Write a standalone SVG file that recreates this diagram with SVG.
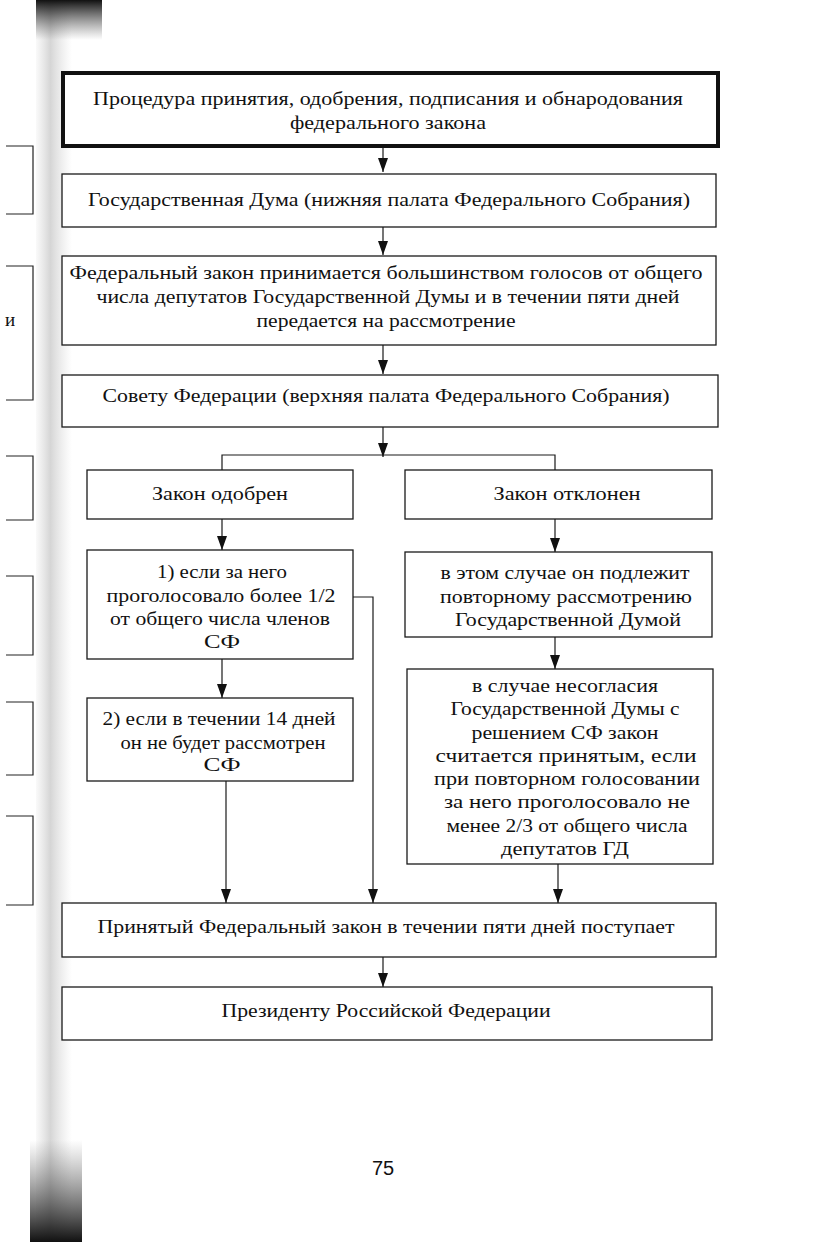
<svg xmlns="http://www.w3.org/2000/svg" width="819" height="1242" viewBox="0 0 819 1242">
  <defs>
    <marker id="arr" viewBox="0 0 14 10" refX="14" refY="5" markerWidth="14" markerHeight="10" markerUnits="userSpaceOnUse" orient="auto">
      <path d="M0,0 L14,5 L0,10 Z" fill="#111"/>
    </marker>
    <linearGradient id="gut" x1="0" y1="0" x2="1" y2="0">
      <stop offset="0" stop-color="#999" stop-opacity="0.05"/>
      <stop offset="0.4" stop-color="#888" stop-opacity="0.35"/>
      <stop offset="1" stop-color="#aaa" stop-opacity="0"/>
    </linearGradient>
    <linearGradient id="gutTop" x1="0" y1="0" x2="0" y2="1">
      <stop offset="0" stop-color="#111" stop-opacity="1"/>
      <stop offset="1" stop-color="#555" stop-opacity="0"/>
    </linearGradient>
    <linearGradient id="gutBot" x1="0" y1="0" x2="0" y2="1">
      <stop offset="0" stop-color="#555" stop-opacity="0"/>
      <stop offset="1" stop-color="#111" stop-opacity="1"/>
    </linearGradient>
  </defs>
  <style>
    .box{fill:#fff;stroke:#1a1a1a;stroke-width:1.3}
    .thick{fill:#fff;stroke:#111;stroke-width:4}
    .t{font-family:"Liberation Serif","Times New Roman",serif;font-size:19px;fill:#111;text-anchor:middle}
    .c{fill:none;stroke:#1a1a1a;stroke-width:1.2}
    .edge{fill:none;stroke:#222;stroke-width:1.2}
  </style>
  <rect x="0" y="0" width="819" height="1242" fill="#fff"/>

  <!-- page edge / gutter of the scan -->
  <g id="page-edge">
    <rect x="36" y="0" width="36" height="1242" fill="url(#gut)"/>
    <rect x="36" y="0" width="66" height="40" fill="url(#gutTop)"/>
    <rect x="30" y="1140" width="52" height="102" fill="url(#gutBot)"/>
    <path class="edge" d="M6,146 H33 V214 H6" stroke-width="3"/>
    <path class="edge" d="M6,266 H33 V400 H6"/>
    <path class="edge" d="M6,456 H33 V520 H6"/>
    <path class="edge" d="M6,576 H33 V655 H6"/>
    <path class="edge" d="M6,702 H33 V775 H6"/>
    <path class="edge" d="M6,816 H33 V905 H6"/>
    <text x="10" y="326" class="t" font-size="16">и</text>
  </g>

  <g id="connectors">
    <line class="c" x1="383" y1="147" x2="383" y2="172" marker-end="url(#arr)"/>
    <line class="c" x1="383" y1="227" x2="383" y2="255" marker-end="url(#arr)"/>
    <line class="c" x1="383" y1="345" x2="383" y2="374" marker-end="url(#arr)"/>
    <line class="c" x1="383" y1="427" x2="383" y2="457" marker-end="url(#arr)"/>
    <path class="c" d="M222,470 V455 H555 V470"/>
    <line class="c" x1="222" y1="519" x2="222" y2="550" marker-end="url(#arr)"/>
    <line class="c" x1="555" y1="519" x2="555" y2="552" marker-end="url(#arr)"/>
    <line class="c" x1="222" y1="659" x2="222" y2="698" marker-end="url(#arr)"/>
    <line class="c" x1="555" y1="637" x2="555" y2="669" marker-end="url(#arr)"/>
    <line class="c" x1="226" y1="781" x2="226" y2="903" marker-end="url(#arr)"/>
    <path class="c" d="M353,597 H373 V903" marker-end="url(#arr)"/>
    <line class="c" x1="558" y1="864" x2="558" y2="903" marker-end="url(#arr)"/>
    <line class="c" x1="383" y1="957" x2="383" y2="987" marker-end="url(#arr)"/>
  </g>

  <g id="n-title">
    <rect class="thick" x="63" y="73" width="655" height="73"/>
    <text class="t" x="388" y="105" textLength="590" lengthAdjust="spacingAndGlyphs">Процедура принятия, одобрения, подписания и обнародования</text>
    <text class="t" x="388" y="129" textLength="196" lengthAdjust="spacingAndGlyphs">федерального закона</text>
  </g>

  <g id="n-duma">
    <rect class="box" x="62" y="174" width="654" height="53"/>
    <text class="t" x="389" y="206" textLength="602" lengthAdjust="spacingAndGlyphs">Государственная Дума (нижняя палата Федерального Собрания)</text>
  </g>

  <g id="n-adopt">
    <rect class="box" x="62" y="256" width="654" height="89"/>
    <text class="t" x="386" y="279" textLength="633" lengthAdjust="spacingAndGlyphs">Федеральный закон принимается большинством голосов от общего</text>
    <text class="t" x="388" y="303" textLength="583" lengthAdjust="spacingAndGlyphs">числа депутатов Государственной Думы и в течении пяти дней</text>
    <text class="t" x="386" y="327" textLength="259" lengthAdjust="spacingAndGlyphs">передается на рассмотрение</text>
  </g>

  <g id="n-council">
    <rect class="box" x="62" y="375" width="656" height="52"/>
    <text class="t" x="386" y="402" textLength="567" lengthAdjust="spacingAndGlyphs">Совету Федерации (верхняя палата Федерального Собрания)</text>
  </g>

  <g id="n-approved">
    <rect class="box" x="87" y="470" width="266" height="49"/>
    <text class="t" x="220" y="500" textLength="136" lengthAdjust="spacingAndGlyphs">Закон одобрен</text>
  </g>

  <g id="n-rejected">
    <rect class="box" x="405" y="470" width="307" height="49"/>
    <text class="t" x="567" y="500" textLength="147" lengthAdjust="spacingAndGlyphs">Закон отклонен</text>
  </g>

  <g id="n-cond1">
    <rect class="box" x="87" y="550" width="266" height="109"/>
    <text class="t" x="222" y="578" textLength="130" lengthAdjust="spacingAndGlyphs">1) если за него</text>
    <text class="t" x="221" y="602" textLength="229" lengthAdjust="spacingAndGlyphs">проголосовало более 1/2</text>
    <text class="t" x="220" y="625" textLength="220" lengthAdjust="spacingAndGlyphs">от общего числа членов</text>
    <text class="t" x="222" y="648" textLength="36" lengthAdjust="spacingAndGlyphs">СФ</text>
  </g>

  <g id="n-reconsider">
    <rect class="box" x="405" y="552" width="307" height="85"/>
    <text class="t" x="565" y="579" textLength="249" lengthAdjust="spacingAndGlyphs">в этом случае он подлежит</text>
    <text class="t" x="566" y="603" textLength="252" lengthAdjust="spacingAndGlyphs">повторному рассмотрению</text>
    <text class="t" x="568" y="626" textLength="226" lengthAdjust="spacingAndGlyphs">Государственной Думой</text>
  </g>

  <g id="n-cond2">
    <rect class="box" x="87" y="698" width="266" height="83"/>
    <text class="t" x="219" y="725" textLength="233" lengthAdjust="spacingAndGlyphs">2) если в течении 14 дней</text>
    <text class="t" x="223" y="749" textLength="205" lengthAdjust="spacingAndGlyphs">он не будет рассмотрен</text>
    <text class="t" x="222" y="771" textLength="37" lengthAdjust="spacingAndGlyphs">СФ</text>
  </g>

  <g id="n-override">
    <rect class="box" x="407" y="669" width="306" height="195"/>
    <text class="t" x="565" y="692" textLength="186" lengthAdjust="spacingAndGlyphs">в случае несогласия</text>
    <text class="t" x="565" y="715" textLength="229" lengthAdjust="spacingAndGlyphs">Государственной Думы с</text>
    <text class="t" x="565" y="739" textLength="187" lengthAdjust="spacingAndGlyphs">решением СФ закон</text>
    <text class="t" x="566" y="762" textLength="261" lengthAdjust="spacingAndGlyphs">считается принятым, если</text>
    <text class="t" x="567" y="785" textLength="266" lengthAdjust="spacingAndGlyphs">при повторном голосовании</text>
    <text class="t" x="567" y="808" textLength="246" lengthAdjust="spacingAndGlyphs">за него проголосовало не</text>
    <text class="t" x="567" y="832" textLength="241" lengthAdjust="spacingAndGlyphs">менее 2/3 от общего числа</text>
    <text class="t" x="565" y="855" textLength="128" lengthAdjust="spacingAndGlyphs">депутатов ГД</text>
  </g>

  <g id="n-adopted">
    <rect class="box" x="62" y="903" width="654" height="54"/>
    <text class="t" x="386" y="933" textLength="577" lengthAdjust="spacingAndGlyphs">Принятый Федеральный закон в течении пяти дней поступает</text>
  </g>

  <g id="n-president">
    <rect class="box" x="62" y="987" width="650" height="53"/>
    <text class="t" x="386" y="1017" textLength="329" lengthAdjust="spacingAndGlyphs">Президенту Российской Федерации</text>
  </g>

  <text x="383" y="1175" font-family="Liberation Sans, Arial, sans-serif" font-size="20" fill="#111" text-anchor="middle">75</text>
</svg>
